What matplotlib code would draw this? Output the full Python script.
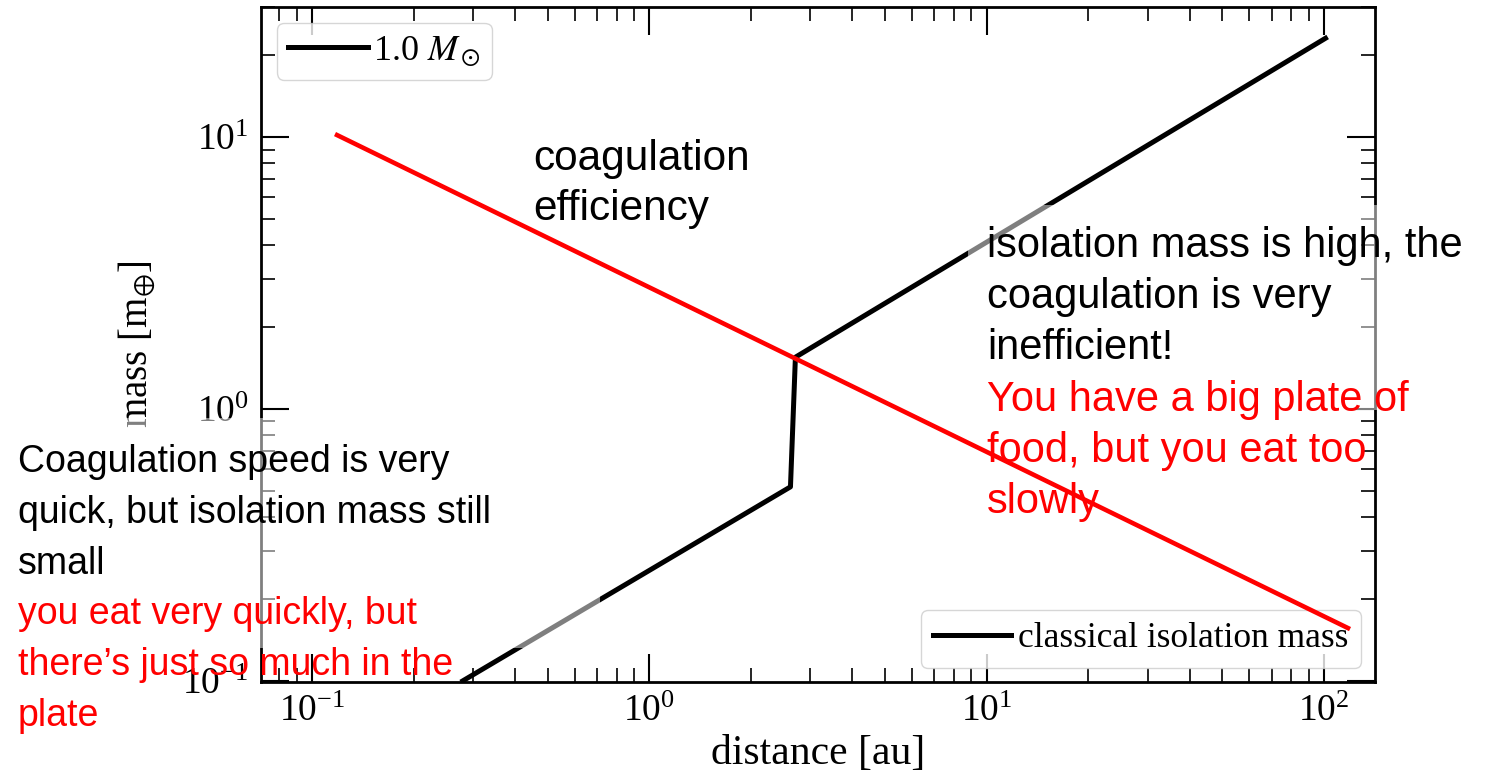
import matplotlib
matplotlib.use("Agg")
import matplotlib.pyplot as plt
from matplotlib.patches import Rectangle

# classical isolation mass for a 1 solar-mass star (jump at the snow line)
distance_au = [0.28, 2.62, 2.71, 101.0]
iso_mass = [0.1, 0.517, 1.55, 23.1]

# coagulation efficiency trend
eff_distance = [0.117, 119.4]
eff_mass = [10.26, 0.155]

top_note = ["coagulation", "efficiency"]
right_note = ["isolation mass is high, the", "coagulation is very", "inefficient!"]
right_food = ["You have a big plate of", "food, but you eat too", "slowly"]
left_note = ["Coagulation speed is very", "quick, but isolation mass still", "small"]
left_food = ["you eat very quickly, but", "there\u2019s just so much in the", "plate"]

plt.rcParams["font.family"] = "serif"
plt.rcParams["font.serif"] = ["Liberation Serif", "DejaVu Serif"]
plt.rcParams["mathtext.fontset"] = "stix"

W, H = 1496, 772
fig = plt.figure(figsize=(W / 100, H / 100), dpi=100)
ax = fig.add_axes([261 / W, 1 - 682 / H, (1375 - 261) / W, (682 - 7) / H])

line, = ax.plot(distance_au, iso_mass, color="black", lw=3.6)
ax.plot(eff_distance, eff_mass, color="red", lw=3.3, solid_capstyle="butt",
        zorder=6)

ax.set_xscale("log")
ax.set_yscale("log")
ax.set_xlim(0.0706, 141.6)
ax.set_ylim(0.099, 30.1)

ax.set_xlabel("distance [au]", fontsize=30, labelpad=4)
ax.set_ylabel("mass [m$_{\\oplus}$]", fontsize=28, labelpad=18)

ax.tick_params(which="both", direction="in", top=True, right=True)
ax.tick_params(which="major", length=20, width=1.5, labelsize=27, pad=9)
ax.tick_params(which="minor", length=10, width=1.2)
for sp in ax.spines.values():
    sp.set_linewidth(2)

leg1 = ax.legend([line], ["1.0 $M_\\odot$"], loc="upper left",
                 fontsize=26, handlelength=2.2, handletextpad=0.15,
                 borderaxespad=0.45, borderpad=0.3, edgecolor="0.8")
ax.add_artist(leg1)
ax.legend([line], ["classical isolation mass"], loc="lower right",
          fontsize=25.5, handlelength=2.2, handletextpad=0.2,
          borderaxespad=0.4, borderpad=0.35, edgecolor="0.8")


def px(x, y):
    return x / W, 1 - y / H


# translucent boxes behind the black notes
for x0, y0, x1, y1 in [(0, 418, 600, 648), (968, 205, 1496, 410)]:
    fx, fy = px(x0, y1)
    fig.patches.append(Rectangle((fx, fy), (x1 - x0) / W, (y1 - y0) / H,
                                 transform=fig.transFigure, facecolor="white",
                                 alpha=0.5, edgecolor="none", zorder=5))


def note(lines, x, y0, step, size, color):
    for i, s in enumerate(lines):
        fx, fy = px(x, y0 + i * step)
        fig.text(fx, fy, s, fontsize=size, color=color, va="baseline",
                 family="Liberation Sans", zorder=6)


note(top_note, 533, 170, 50, 30.5, "black")
note(right_note, 987, 257, 51, 30, "black")
note(right_food, 987, 411, 51, 30, "red")
note(left_note, 18, 472, 51, 27, "black")
note(left_food, 18, 624, 51, 27, "red")

fig.savefig("out.png", dpi=100)
